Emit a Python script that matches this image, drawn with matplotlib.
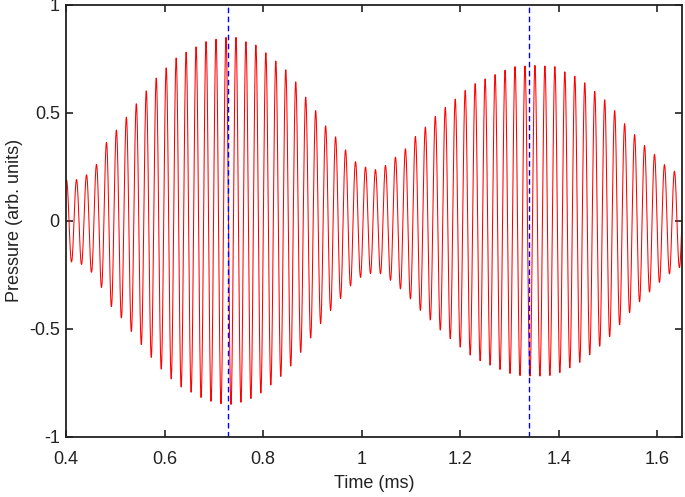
import numpy as np
import matplotlib
matplotlib.use('Agg')
import matplotlib.pyplot as plt
from matplotlib.ticker import FormatStrFormatter

plt.rcParams['font.family'] = ['Liberation Sans', 'DejaVu Sans']
plt.rcParams['axes.unicode_minus'] = False

# envelope of the pressure trace (time in ms, amplitude)
ENV_T = [0.40, 0.42, 0.44, 0.465, 0.485, 0.506, 0.545, 0.586, 0.626, 0.684,
         0.72, 0.745, 0.765, 0.785, 0.805, 0.826, 0.846, 0.866, 0.886, 0.907,
         0.927, 0.947, 0.967, 0.987, 1.007, 1.031, 1.051, 1.071, 1.092, 1.112,
         1.132, 1.152, 1.172, 1.193, 1.213, 1.233, 1.253, 1.273, 1.293, 1.312,
         1.352, 1.392, 1.413, 1.433, 1.453, 1.473, 1.494, 1.514, 1.534, 1.554,
         1.574, 1.594, 1.615, 1.635, 1.65]
ENV_A = [0.19, 0.19, 0.21, 0.27, 0.38, 0.43, 0.55, 0.67, 0.76, 0.83,
         0.85, 0.85, 0.83, 0.815, 0.78, 0.74, 0.70, 0.645, 0.575, 0.51,
         0.44, 0.39, 0.33, 0.275, 0.25, 0.236, 0.26, 0.30, 0.34, 0.40,
         0.44, 0.49, 0.53, 0.57, 0.61, 0.64, 0.66, 0.68, 0.70, 0.715,
         0.72, 0.715, 0.69, 0.67, 0.64, 0.60, 0.56, 0.51, 0.45, 0.40,
         0.35, 0.31, 0.26, 0.23, 0.21]
CARRIER_PERIOD = 0.02023   # ms
FIRST_PEAK = 0.401         # ms
MARKERS = [0.729, 1.339]   # dashed lines, ms

XTICKS = [0.4, 0.6, 0.8, 1.0, 1.2, 1.4, 1.6]
YTICKS = [-1, -0.5, 0, 0.5, 1]

t = np.linspace(0.4, 1.65, 6000)
env = np.interp(t, ENV_T, ENV_A)
p = env * np.cos(2 * np.pi * (t - FIRST_PEAK) / CARRIER_PERIOD)

fig = plt.figure(figsize=(6.85, 4.97), dpi=100)
ax = fig.add_axes([0.0964, 0.121, 0.899, 0.869])
ax.plot(t, p, color='red', lw=0.75)
for m in MARKERS:
    ax.axvline(m, color='blue', ls='--', lw=1.0, dashes=(4, 2.5))

ax.set_xlim(0.4, 1.65)
ax.set_ylim(-1, 1)
ax.set_xticks(XTICKS)
ax.set_yticks(YTICKS)
ax.xaxis.set_major_formatter(FormatStrFormatter('%g'))
ax.yaxis.set_major_formatter(FormatStrFormatter('%g'))
ax.tick_params(direction='in', top=True, right=True, length=5, width=1.2,
               labelsize=13, colors='#222222')
ax.tick_params(axis='x', pad=10)
ax.tick_params(axis='y', pad=4.5)
for s in ax.spines.values():
    s.set_linewidth(1.3)
    s.set_color('#222222')
ax.set_xlabel('Time (ms)', fontsize=13, color='#222222', labelpad=5)
ax.set_ylabel('Pressure (arb. units)', fontsize=13, color='#222222', labelpad=4.5)

fig.savefig('out.png', dpi=100)
